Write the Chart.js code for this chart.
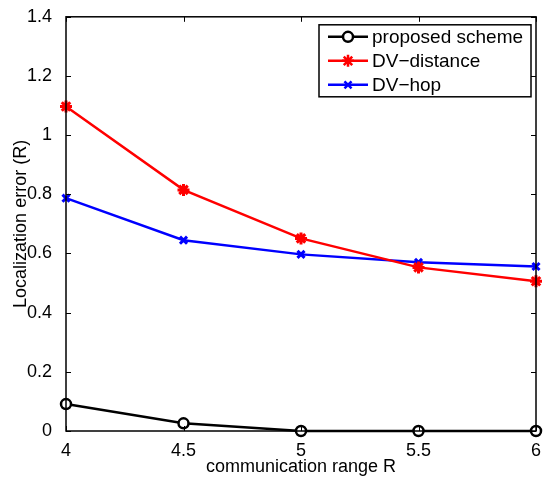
<!DOCTYPE html>
<html>
<head>
<meta charset="utf-8">
<script src="https://cdn.jsdelivr.net/npm/chart.js@4"></script>
<style>
  html, body { margin: 0; padding: 0; background: #fff; }
  #wrap { width: 545px; height: 480px; }
</style>
</head>
<body>
<div id="wrap"><canvas id="errChart" width="545" height="480"></canvas></div>
<script>
// datos
const rangos = [4, 4.5, 5, 5.5, 6];
const propuesto = [0.091, 0.026, 0, 0, 0];
const dvDistance = [1.097, 0.815, 0.651, 0.553, 0.506];
const dvHop = [0.787, 0.645, 0.597, 0.570, 0.556];
const ticksX = [4, 4.5, 5, 5.5, 6];
const ticksY = [0, 0.2, 0.4, 0.6, 0.8, 1, 1.2, 1.4];

const fuente = "'Liberation Sans', Arial, Helvetica, sans-serif";

function puntos(ys) {
    return rangos.map((x, i) => ({ x: x, y: ys[i] }));
}

// caja y marcas hacia dentro, estilo matlab
const cajaPlugin = {
    id: 'caja',
    afterDatasetsDraw(chart) {
        const ctx = chart.ctx;
        const a = chart.chartArea;
        const sx = chart.scales.x, sy = chart.scales.y;
        ctx.save();
        ctx.strokeStyle = '#000';
        ctx.lineWidth = 1;
        ctx.beginPath();
        ticksX.forEach(v => {
            const px = Math.round(sx.getPixelForValue(v)) + 0.5;
            ctx.moveTo(px, a.bottom); ctx.lineTo(px, a.bottom - 5);
            ctx.moveTo(px, a.top); ctx.lineTo(px, a.top + 5);
        });
        ticksY.forEach(v => {
            const py = Math.round(sy.getPixelForValue(v)) + 0.5;
            ctx.moveTo(a.left, py); ctx.lineTo(a.left + 5, py);
            ctx.moveTo(a.right, py); ctx.lineTo(a.right - 5, py);
        });
        ctx.stroke();
        ctx.lineWidth = 1.5;
        ctx.strokeRect(a.left, a.top, a.right - a.left, a.bottom - a.top);
        ctx.restore();
    }
};

// leyenda con borde en la esquina superior derecha
const leyendaPlugin = {
    id: 'leyenda',
    afterDraw(chart) {
        const ctx = chart.ctx;
        const a = chart.chartArea;
        const x0 = a.right - 217, y0 = a.top + 8, w = 212, h = 72;
        ctx.save();
        ctx.fillStyle = '#fff';
        ctx.fillRect(x0, y0, w, h);
        ctx.strokeStyle = '#000';
        ctx.lineWidth = 1.5;
        ctx.strokeRect(x0, y0, w, h);
        ctx.font = '19px ' + fuente;
        ctx.textBaseline = 'middle';
        chart.data.datasets.forEach((ds, i) => {
            const cy = y0 + 12 + i * 24;
            ctx.strokeStyle = ds.borderColor;
            ctx.fillStyle = ds.backgroundColor;
            ctx.lineWidth = 2.5;
            ctx.beginPath();
            ctx.moveTo(x0 + 9, cy); ctx.lineTo(x0 + 49, cy);
            ctx.stroke();
            Chart.helpers.drawPoint(ctx, {
                pointStyle: ds.pointStyle,
                radius: ds.pointRadius,
                borderWidth: ds.pointBorderWidth,
                rotation: 0
            }, x0 + 29, cy);
            ctx.fillStyle = '#000';
            ctx.fillText(ds.label, x0 + 53, cy + 1);
        });
        ctx.restore();
    }
};

new Chart(document.getElementById('errChart'), {
    type: 'line',
    data: {
        datasets: [
            {
                label: 'proposed scheme',
                data: puntos(propuesto),
                borderColor: '#000000',
                backgroundColor: '#ffffff',
                pointStyle: 'circle',
                pointRadius: 5,
                pointBorderWidth: 2.5,
                borderWidth: 2.5
            },
            {
                label: 'DV\u2212distance',
                data: puntos(dvDistance),
                borderColor: '#ff0000',
                backgroundColor: '#ff0000',
                pointStyle: 'star',
                pointRadius: 6,
                pointBorderWidth: 3,
                borderWidth: 2.5
            },
            {
                label: 'DV\u2212hop',
                data: puntos(dvHop),
                borderColor: '#0000ff',
                backgroundColor: '#0000ff',
                pointStyle: 'crossRot',
                pointRadius: 5,
                pointBorderWidth: 3,
                borderWidth: 2.5
            }
        ]
    },
    options: {
        responsive: false,
        animation: false,
        clip: false,
        layout: { padding: { left: 0, right: 7, top: 7, bottom: 0 } },
        plugins: {
            legend: { display: false },
            tooltip: { enabled: false }
        },
        scales: {
            x: {
                type: 'linear',
                min: 4,
                max: 6,
                afterFit(s) { s.height = 49; },
                afterBuildTicks(s) { s.ticks = ticksX.map(v => ({ value: v })); },
                grid: { display: false },
                border: { display: false },
                ticks: {
                    color: '#000',
                    padding: 1,
                    maxRotation: 0,
                    callback: v => String(v),
                    font: { family: fuente, size: 18 }
                },
                title: {
                    display: true,
                    text: 'communication range R',
                    color: '#000',
                    padding: { top: 0, bottom: 2 },
                    font: { family: fuente, size: 18 }
                }
            },
            y: {
                min: 0,
                max: 1.4,
                afterFit(s) { s.width = 66; },
                afterBuildTicks(s) { s.ticks = ticksY.map(v => ({ value: v })); },
                grid: { display: false },
                border: { display: false },
                ticks: {
                    color: '#000',
                    padding: 6,
                    callback: v => String(v),
                    font: { family: fuente, size: 18 }
                },
                title: {
                    display: true,
                    text: 'Localization error (R)',
                    color: '#000',
                    padding: { top: 10, bottom: 2 },
                    font: { family: fuente, size: 18 }
                }
            }
        }
    },
    plugins: [cajaPlugin, leyendaPlugin]
});
</script>
</body>
</html>
